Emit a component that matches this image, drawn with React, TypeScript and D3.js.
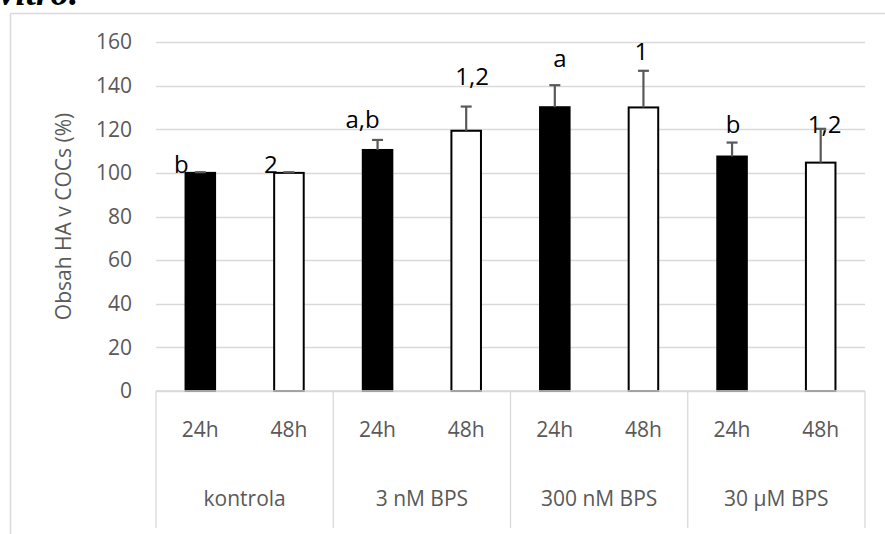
import React from "react";
import * as d3 from "d3";

// data
const groups = ["kontrola", "3 nM BPS", "300 nM BPS", "30 µM BPS"];
const times = ["24h", "48h"];
const mean24 = [100, 110.5, 130.1, 107.5];
const mean48 = [100, 119.3, 130.0, 104.7];
const err24 = [0.3, 4.6, 10.1, 6.4];
const err48 = [0.3, 11.1, 16.8, 15.5];
const letters24 = ["b", "a,b", "a", "b"];
const letters48 = ["2", "1,2", "1", "1,2"];
// where the letters sit, in axis units (hand placed in the original)
const letterAt24 = [100, 120.6, 148.6, 118.3];
const letterAt48 = [100, 140.4, 151.8, 118.3];
const yTicks = [0, 20, 40, 60, 80, 100, 120, 140, 160];

// layout
const W = 885;
const H = 534;
const left = 156;
const right = 865;
const top = 42;
const bottom = 391;
const letterDx24 = [-19, -15, 5, 1];
const letterDx48 = [-18, 6, -2, 4];

const font = "'Open Sans', sans-serif";
const grey = "#595959";
const gridColor = "#d9d9d9";

export default function App() {
  const rows = groups.flatMap((g, i) => [
    { key: g + "|24h", group: g, time: times[0], v: mean24[i], e: err24[i], lab: letters24[i], at: letterAt24[i], dx: letterDx24[i], filled: true },
    { key: g + "|48h", group: g, time: times[1], v: mean48[i], e: err48[i], lab: letters48[i], at: letterAt48[i], dx: letterDx48[i], filled: false },
  ]);

  const x = d3.scaleBand<string>().domain(rows.map((r) => r.key)).range([left, right]);
  const gx = d3.scaleBand<string>().domain(groups).range([left, right]);
  const y = d3.scaleLinear().domain([0, 160]).range([bottom, top]);
  const bw = x.bandwidth() / 3;
  const capW = 11;

  return (
    <svg
      width={W}
      height={H}
      style={{ position: "absolute", left: 0, top: 0, background: "#fff" }}
    >
      {/* cut-off heading above the chart */}
      <text x={-1} y={5} fontFamily="'Liberation Serif', serif" fontWeight="bold" fontStyle="italic" fontSize={37} fill="#000">
        vitro.
      </text>

      {/* chart frame */}
      <path d={`M10.5,${H} V13.5 H${W}`} fill="none" stroke={gridColor} strokeWidth={1.5} />

      {/* gridlines + y ticks */}
      {yTicks.map((t) => (
        <g key={t}>
          <line x1={left} x2={right} y1={Math.round(y(t)) + 0.5} y2={Math.round(y(t)) + 0.5} stroke={gridColor} strokeWidth={1.3} />
          <text x={132} y={y(t)} dy="0.35em" textAnchor="end" fontFamily={font} fontSize={21} fill={grey}>
            {t}
          </text>
        </g>
      ))}

      <text
        transform={`translate(70.5,${(top + bottom) / 2}) rotate(-90)`}
        textAnchor="middle"
        fontFamily={font}
        fontSize={21}
        fill={grey}
      >
        Obsah HA v COCs (%)
      </text>

      {/* group separators on the category axis */}
      {[...groups.map((g) => gx(g)!), right].map((px, i) => (
        <line key={i} x1={px} x2={px} y1={bottom} y2={528} stroke={gridColor} strokeWidth={1.3} />
      ))}

      {/* bars */}
      {rows.map((r) => {
        const cx = x(r.key)! + x.bandwidth() / 2;
        return (
          <g key={r.key}>
            <rect
              x={cx - bw / 2}
              y={y(r.v)}
              width={bw}
              height={y(0) - y(r.v)}
              fill={r.filled ? "#000" : "#fff"}
              stroke="#000"
              strokeWidth={2}
            />
            <line x1={cx} x2={cx} y1={y(r.v)} y2={y(r.v + r.e)} stroke={grey} strokeWidth={2.2} />
            <line x1={cx - capW / 2} x2={cx + capW / 2} y1={y(r.v + r.e)} y2={y(r.v + r.e)} stroke={grey} strokeWidth={2.2} />
            <text x={cx + r.dx} y={y(r.at)} textAnchor="middle" fontFamily={font} fontSize={24} fill="#000">
              {r.lab}
            </text>
            <text x={cx} y={437} textAnchor="middle" fontFamily={font} fontSize={21} fill={grey}>
              {r.time}
            </text>
          </g>
        );
      })}

      {/* x axis line */}
      <line x1={left} x2={right} y1={bottom} y2={bottom} stroke={gridColor} strokeWidth={1.5} />

      {groups.map((g) => (
        <text key={g} x={gx(g)! + gx.bandwidth() / 2} y={506} textAnchor="middle" fontFamily={font} fontSize={21} fill={grey}>
          {g}
        </text>
      ))}
    </svg>
  );
}
